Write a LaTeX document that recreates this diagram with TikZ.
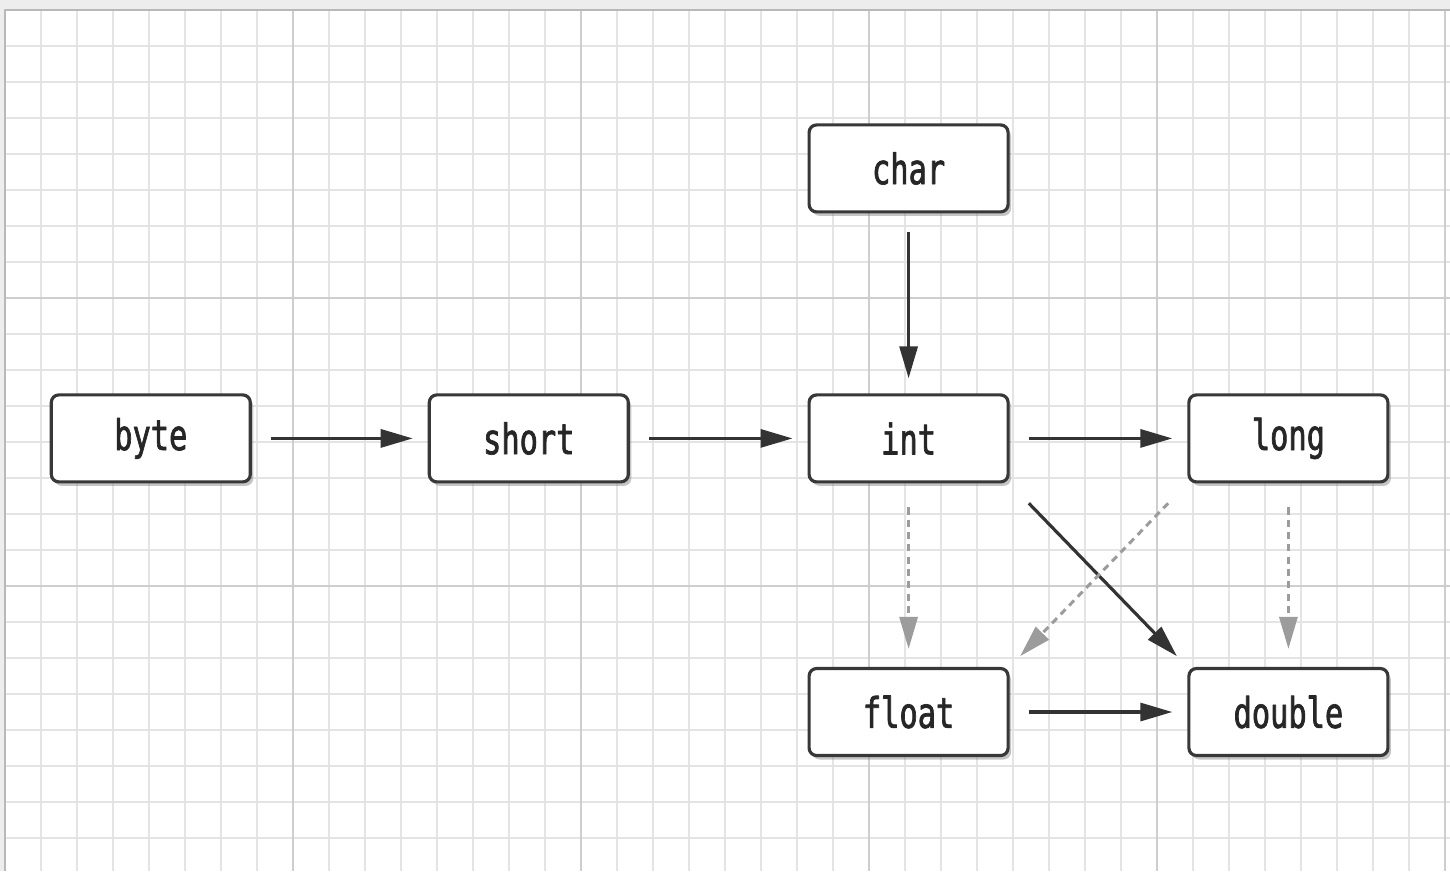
\documentclass[tikz,border=0pt]{standalone}
\usepackage{fontspec}
\newfontfamily\typefont[FakeStretch=0.72,FakeBold=1.6]{DejaVu Sans Mono}
\usetikzlibrary{arrows.meta,shadows}
\definecolor{gridminor}{HTML}{E4E4E4}
\definecolor{gridmajor}{HTML}{CECECE}
\definecolor{boxline}{HTML}{383838}
\definecolor{dashgray}{HTML}{9C9C9C}
\tikzset{
	typebox/.style={draw=boxline, line width=1.8pt, fill=white, rounded corners=0.15cm,
		minimum width=3.98cm, minimum height=1.74cm, text=black!85,
		font=\typefont\fontsize{24}{28}\selectfont,
		drop shadow={shadow xshift=0.06cm, shadow yshift=-0.08cm, opacity=0.45}},
	widen/.style={line width=1.8pt, draw=black!80, -{Triangle[length=0.64cm,width=0.36cm]},
		shorten <=0.38cm, shorten >=0.3cm},
	narrow/.style={line width=1.7pt, draw=dashgray, dash pattern=on 4pt off 3pt,
		-{Triangle[length=0.64cm,width=0.36cm,fill=dashgray]},
		shorten <=0.48cm, shorten >=0.36cm}
}
\begin{document}
\begin{tikzpicture}[x=0.72cm, y=0.72cm, line join=round]
		\def \xmin{-0.139} \def \xmax{40.139}
		\def \ymin{-23.917} \def \ymax{0.278}
		\useasboundingbox (\xmin,\ymin) rectangle (\xmax,\ymax);
		% paper and grid
		\fill[black!7] (\xmin,\ymin) rectangle (\xmax,\ymax);
		\fill[white] (0,\ymin) rectangle (\xmax,0);
		\foreach \x in {1,...,40}
		\draw[gridminor, line width=1.2pt] (\x,0) -- (\x,\ymin);
		\foreach \y in {1,...,23}
		\draw[gridminor, line width=1.2pt] (0,-\y) -- (\xmax,-\y);
		\foreach \x in {8,16,...,40}
		\draw[gridmajor, line width=1.5pt] (\x,0) -- (\x,\ymin);
		\foreach \y in {8,16}
		\draw[gridmajor, line width=1.5pt] (0,-\y) -- (\xmax,-\y);
		\draw[black!28, line width=1.6pt] (0,\ymin) -- (0,0) -- (\xmax,0);
		% types
		\node[typebox] (byte) at (4.05,-11.9) {byte};
		\node[typebox] (short) at (14.55,-11.9) {short};
		\node[typebox] (int) at (25.1,-11.9) {int};
		\node[typebox] (long) at (35.65,-11.9) {long};
		\node[typebox] (char) at (25.1,-4.4) {char};
		\node[typebox] (float) at (25.1,-19.5) {float};
		\node[typebox] (double) at (35.65,-19.5) {double};
		% conversions
		\draw[widen] (byte) -- (short);
		\draw[widen] (short) -- (int);
		\draw[widen] (int) -- (long);
		\draw[widen] (char) -- (int);
		\draw[widen] (float) -- (double);
		\draw[widen, shorten <=0.55cm] (int.south east) -- (double.north west);
		\draw[narrow] (int) -- (float);
		\draw[narrow] (long) -- (double);
		\draw[narrow, shorten <=0.55cm, shorten >=0.3cm] (long.south west) -- (float.north east);
\end{tikzpicture}
\end{document}
